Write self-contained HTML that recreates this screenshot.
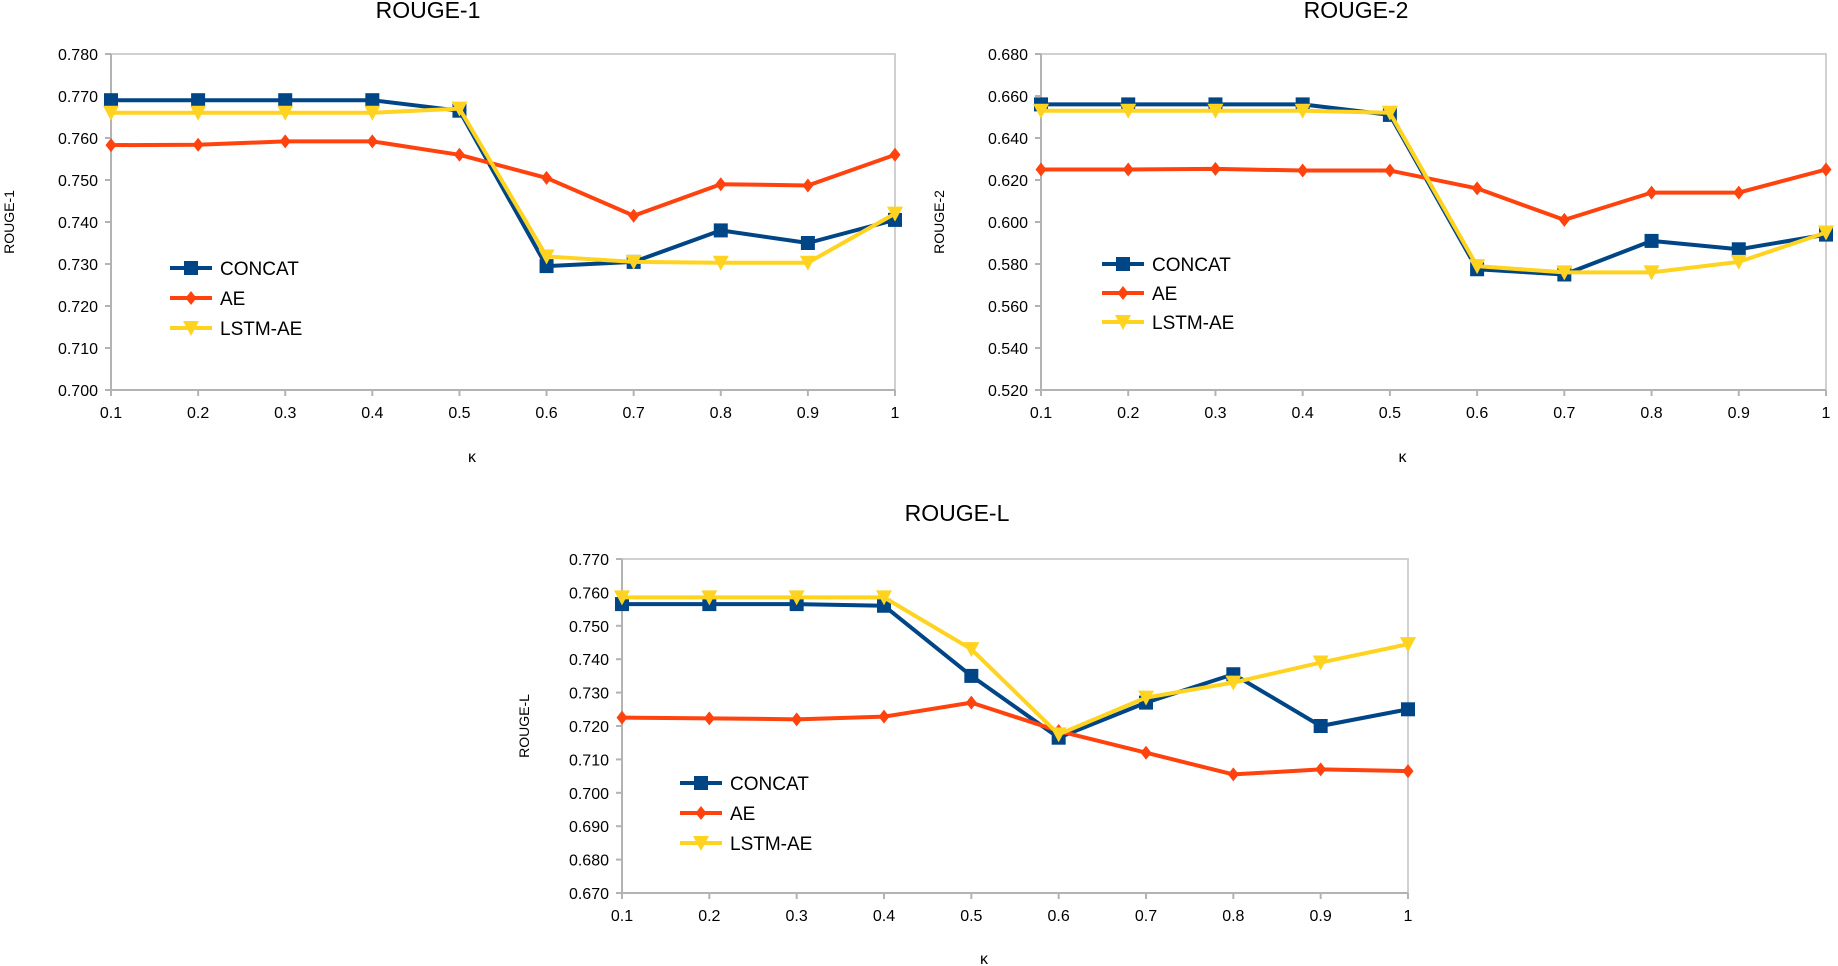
<!DOCTYPE html>
<html><head><meta charset="utf-8"><style>
html,body{margin:0;padding:0;background:#fff;}
svg{display:block;font-family:"Liberation Sans",sans-serif;}
</style></head><body>
<svg id="s" width="1838" height="966"></svg>
<script>
const categories=["0.1","0.2","0.3","0.4","0.5","0.6","0.7","0.8","0.9","1"];
const seriesNames=["CONCAT","AE","LSTM-AE"];
const r1Concat=[0.769,0.769,0.769,0.769,0.7665,0.7295,0.7305,0.738,0.735,0.7405];
const r1AE=[0.7583,0.7584,0.7592,0.7592,0.756,0.7505,0.7415,0.749,0.7487,0.756];
const r1LSTM=[0.766,0.766,0.766,0.766,0.767,0.7318,0.7305,0.7303,0.7303,0.742];
const r2Concat=[0.656,0.656,0.656,0.656,0.651,0.5775,0.575,0.591,0.587,0.594];
const r2AE=[0.625,0.625,0.6253,0.6245,0.6245,0.616,0.601,0.614,0.614,0.625];
const r2LSTM=[0.653,0.653,0.653,0.653,0.652,0.579,0.576,0.576,0.581,0.595];
const rlConcat=[0.7565,0.7565,0.7565,0.756,0.735,0.7165,0.727,0.7355,0.720,0.725];
const rlAE=[0.7225,0.7223,0.722,0.7228,0.727,0.7185,0.712,0.7055,0.707,0.7065];
const rlLSTM=[0.7585,0.7585,0.7585,0.7585,0.743,0.7175,0.7285,0.733,0.739,0.7445];
const r1Ticks=[0.700,0.710,0.720,0.730,0.740,0.750,0.760,0.770,0.780];
const r2Ticks=[0.520,0.540,0.560,0.580,0.600,0.620,0.640,0.660,0.680];
const rlTicks=[0.670,0.680,0.690,0.700,0.710,0.720,0.730,0.740,0.750,0.760,0.770];

const colors=["#004586","#ff420e","#ffd320"];
const NS="http://www.w3.org/2000/svg";
const svg=document.getElementById('s');
function mk(tag,attrs,parent,text){const e=document.createElementNS(NS,tag);for(const k in attrs)e.setAttribute(k,attrs[k]);if(text!==undefined)e.textContent=text;(parent||svg).appendChild(e);return e;}
function marker(g,type,x,y,c){
  let m;
  if(type===0){m=mk('rect',{x:x-7,y:y-7,width:14,height:14,fill:c},g);}
  else if(type===1){m=mk('polygon',{points:`${x},${y-7} ${x+5.5},${y} ${x},${y+7} ${x-5.5},${y}`,fill:c},g);}
  else{m=mk('polygon',{points:`${x-8},${y-7} ${x+8},${y-7} ${x},${y+8}`,fill:c},g);}
  return m;
}
function chart(cfg){
  const g=mk('g',{});
  
  
  const {L,R,T,B,ticks}=cfg;
  const lo=ticks[0],hi=ticks[ticks.length-1];
  const xs=i=>L+(R-L)*i/(categories.length-1);
  const ys=v=>B-(v-lo)/(hi-lo)*(B-T);
  const frame=mk('rect',{x:L,y:T,width:R-L,height:B-T,fill:'none',stroke:'#d0d0d0','stroke-width':2},g);
  
  mk('line',{x1:L,y1:T,x2:L,y2:B+6,stroke:'#b3b3b3','stroke-width':2},g);
  mk('line',{x1:L-6,y1:B,x2:R,y2:B,stroke:'#b3b3b3','stroke-width':2},g);
  ticks.forEach(t=>{
    mk('line',{x1:L-6,y1:ys(t),x2:L,y2:ys(t),stroke:'#b3b3b3','stroke-width':2},g);
    const tx=mk('text',{x:L-13,y:ys(t)+6,'text-anchor':'end','font-size':16,fill:'#000'},g,t.toFixed(3));
    
  });
  categories.forEach((c,i)=>{
    mk('line',{x1:xs(i),y1:B,x2:xs(i),y2:B+6,stroke:'#b3b3b3','stroke-width':2},g);
    const tx=mk('text',{x:xs(i),y:B+28,'text-anchor':'middle','font-size':16,fill:'#000'},g,c);
    
  });
  const ti=mk('text',{x:cfg.tx,y:cfg.ty,'text-anchor':'middle','font-size':23,fill:'#000'},g,cfg.title);
  
  const xt=mk('text',{x:(L+R)/2-31,y:cfg.kY,'text-anchor':'middle','font-size':16,fill:'#000'},g,'κ');
  
  const yt=mk('text',{x:0,y:0,'text-anchor':'middle','font-size':14,fill:'#000',transform:`translate(${cfg.yx},${(T+B)/2}) rotate(-90)`},g,cfg.title);
  
  cfg.data.forEach((arr,si)=>{
    const pts=arr.map((v,i)=>xs(i)+','+ys(v)).join(' ');
    const pl=mk('polyline',{points:pts,fill:'none',stroke:colors[si],'stroke-width':4,'stroke-linejoin':'round'},g);
    
    
    arr.forEach((v,i)=>{
      const m=marker(g,si,xs(i),ys(v),colors[si]);
      
      
    });
  });
  seriesNames.forEach((n,si)=>{
    const y=cfg.lg[1]+si*cfg.lg[2];
    const lx=cfg.lg[0];
    const le=mk('g',{},g);
    
    
    mk('line',{x1:lx,y1:y,x2:lx+42,y2:y,stroke:colors[si],'stroke-width':4},le);
    marker(le,si,lx+21,y,colors[si]);
    mk('text',{x:lx+50,y:y+7,'font-size':19,fill:'#000'},le,n);
  });
}
chart({name:'rouge-1-chart',title:'ROUGE-1',L:111,R:895,T:54,B:390,ticks:r1Ticks,data:[r1Concat,r1AE,r1LSTM],tx:428,ty:18,kY:462,yx:14,lg:[170,268,30]});
chart({name:'rouge-2-chart',title:'ROUGE-2',L:1041,R:1826,T:54,B:390,ticks:r2Ticks,data:[r2Concat,r2AE,r2LSTM],tx:1356,ty:18,kY:462,yx:944,lg:[1102,264,29]});
chart({name:'rouge-l-chart',title:'ROUGE-L',L:622,R:1408,T:559,B:893,ticks:rlTicks,data:[rlConcat,rlAE,rlLSTM],tx:957,ty:521,kY:964,yx:529,lg:[680,783,30]});
</script>
</body></html>
